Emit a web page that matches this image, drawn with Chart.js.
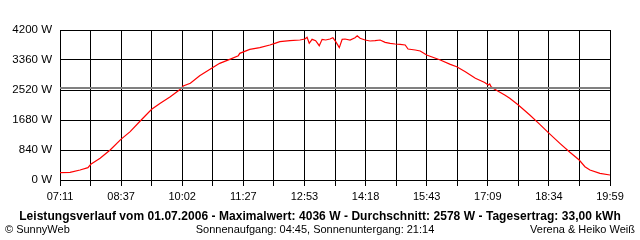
<!DOCTYPE html>
<html>
<head>
<meta charset="utf-8">
<script src="https://cdn.jsdelivr.net/npm/chart.js@4"></script>
<style>
  html, body { margin: 0; padding: 0; background: #fff; }
  #wrap { position: relative; width: 640px; height: 240px; font-family: "Liberation Sans", Arial, sans-serif; color: #000; }
  canvas { position: absolute; left: 0; top: 0; }
  .t { position: absolute; white-space: nowrap; font-size: 11px; line-height: 12px; }
  #title { top: 210px; left: 0; width: 640px; text-align: center; font-weight: bold; font-size: 12px; letter-spacing: 0.05px; }
  #copy { top: 223px; left: 5px; }
  #sun { top: 223px; left: 0; width: 630px; text-align: center; }
  #auth { top: 223px; right: 5px; }
</style>
</head>
<body>
<div id="wrap">
  <canvas id="c" width="640" height="240"></canvas>
  <div class="t" id="title">Leistungsverlauf vom 01.07.2006 - Maximalwert: 4036 W - Durchschnitt: 2578 W - Tagesertrag: 33,00 kWh</div>
  <div class="t" id="copy">© SunnyWeb</div>
  <div class="t" id="sun">Sonnenaufgang: 04:45, Sonnenuntergang: 21:14</div>
  <div class="t" id="auth">Verena &amp; Heiko Weiß</div>
</div>
<script>
// Time of day in minutes since midnight (07:11 = 431, 19:59 = 1199)
const times = [431,445,459,470,474,487,501,516,529,543,559,571,585,599,603,613,626,645,654,668,680,682,696,710,724,731,738,752,766,773,776,779,783,788,793,797,802,808,812,816,821,825,829,836,843,846,850,857,864,871,878,885,892,899,906,913,917,927,934,943,962,976,985,997,1011,1024,1029,1031,1033,1038,1052,1059,1071,1087,1101,1114,1129,1143,1156,1164,1171,1185,1199];
// Power in W
const watts = [205,215,280,345,440,607,840,1139,1353,1652,1979,2147,2333,2539,2632,2707,2921,3155,3267,3379,3481,3547,3659,3705,3780,3827,3873,3901,3920,3948,3995,3827,3939,3901,3761,3939,3920,3948,3985,3873,3705,3940,3948,3920,3985,4036,3967,3920,3892,3901,3920,3855,3827,3808,3799,3780,3668,3640,3612,3500,3360,3239,3173,3033,2847,2730,2660,2690,2610,2540,2380,2287,2100,1820,1559,1307,1027,775,560,373,280,187,140];
const average = 2578;
const yTicks = [0, 840, 1680, 2520, 3360, 4200];
const xTickLabels = ['07:11','08:37','10:02','11:27','12:53','14:18','15:43','17:09','18:34','19:59'];
const tStart = 431, tEnd = 1199;

const pts = times.map((t, i) => ({x: t, y: watts[i]}));
const avgPts = [{x: tStart, y: average}, {x: tEnd, y: average}];

new Chart(document.getElementById('c'), {
  type: 'line',
  data: {
    datasets: [
      { data: avgPts, borderColor: '#808080', borderWidth: 2, pointRadius: 0, tension: 0 },
      { data: pts, borderColor: '#ff0000', borderWidth: 1.2, pointRadius: 0, tension: 0 }
    ]
  },
  options: {
    responsive: false,
    animation: false,
    events: [],
    layout: { padding: { left: 0, right: 30, top: 30, bottom: 38 } },
    plugins: { legend: { display: false }, tooltip: { enabled: false } },
    scales: {
      x: {
        type: 'linear',
        min: tStart, max: tEnd,
        afterBuildTicks: (s) => {
          const n = (xTickLabels.length - 1) * 2;
          s.ticks = [];
          for (let i = 0; i <= n; i++) s.ticks.push({ value: tStart + (tEnd - tStart) * i / n });
        },
        afterFit: (s) => { s.height = 22; },
        ticks: {
          autoSkip: false, maxRotation: 0, minRotation: 0, color: '#000', padding: 4,
          font: { family: 'Liberation Sans', size: 11 },
          callback: (v, i) => (i % 2 === 0 ? xTickLabels[i / 2] : '')
        },
        grid: { color: '#000', lineWidth: 1, drawTicks: true, tickLength: 6, tickColor: '#000' },
        border: { color: '#000', width: 1 }
      },
      y: {
        min: 0, max: 4200,
        afterBuildTicks: (s) => { s.ticks = yTicks.map(v => ({ value: v })); },
        afterFit: (s) => { s.width = 60; },
        ticks: {
          color: '#000', padding: 8,
          font: { family: 'Liberation Sans', size: 11.5 },
          callback: (v) => v + ' W'
        },
        grid: { color: '#000', lineWidth: 1, drawTicks: false },
        border: { color: '#000', width: 1 }
      },
      y2: {
        position: 'right', min: 0, max: 4200,
        afterFit: (s) => { s.width = 0; },
        ticks: { display: false },
        grid: { display: false, drawTicks: false },
        border: { color: '#000', width: 1 }
      }
    }
  }
});
</script>
</body>
</html>
